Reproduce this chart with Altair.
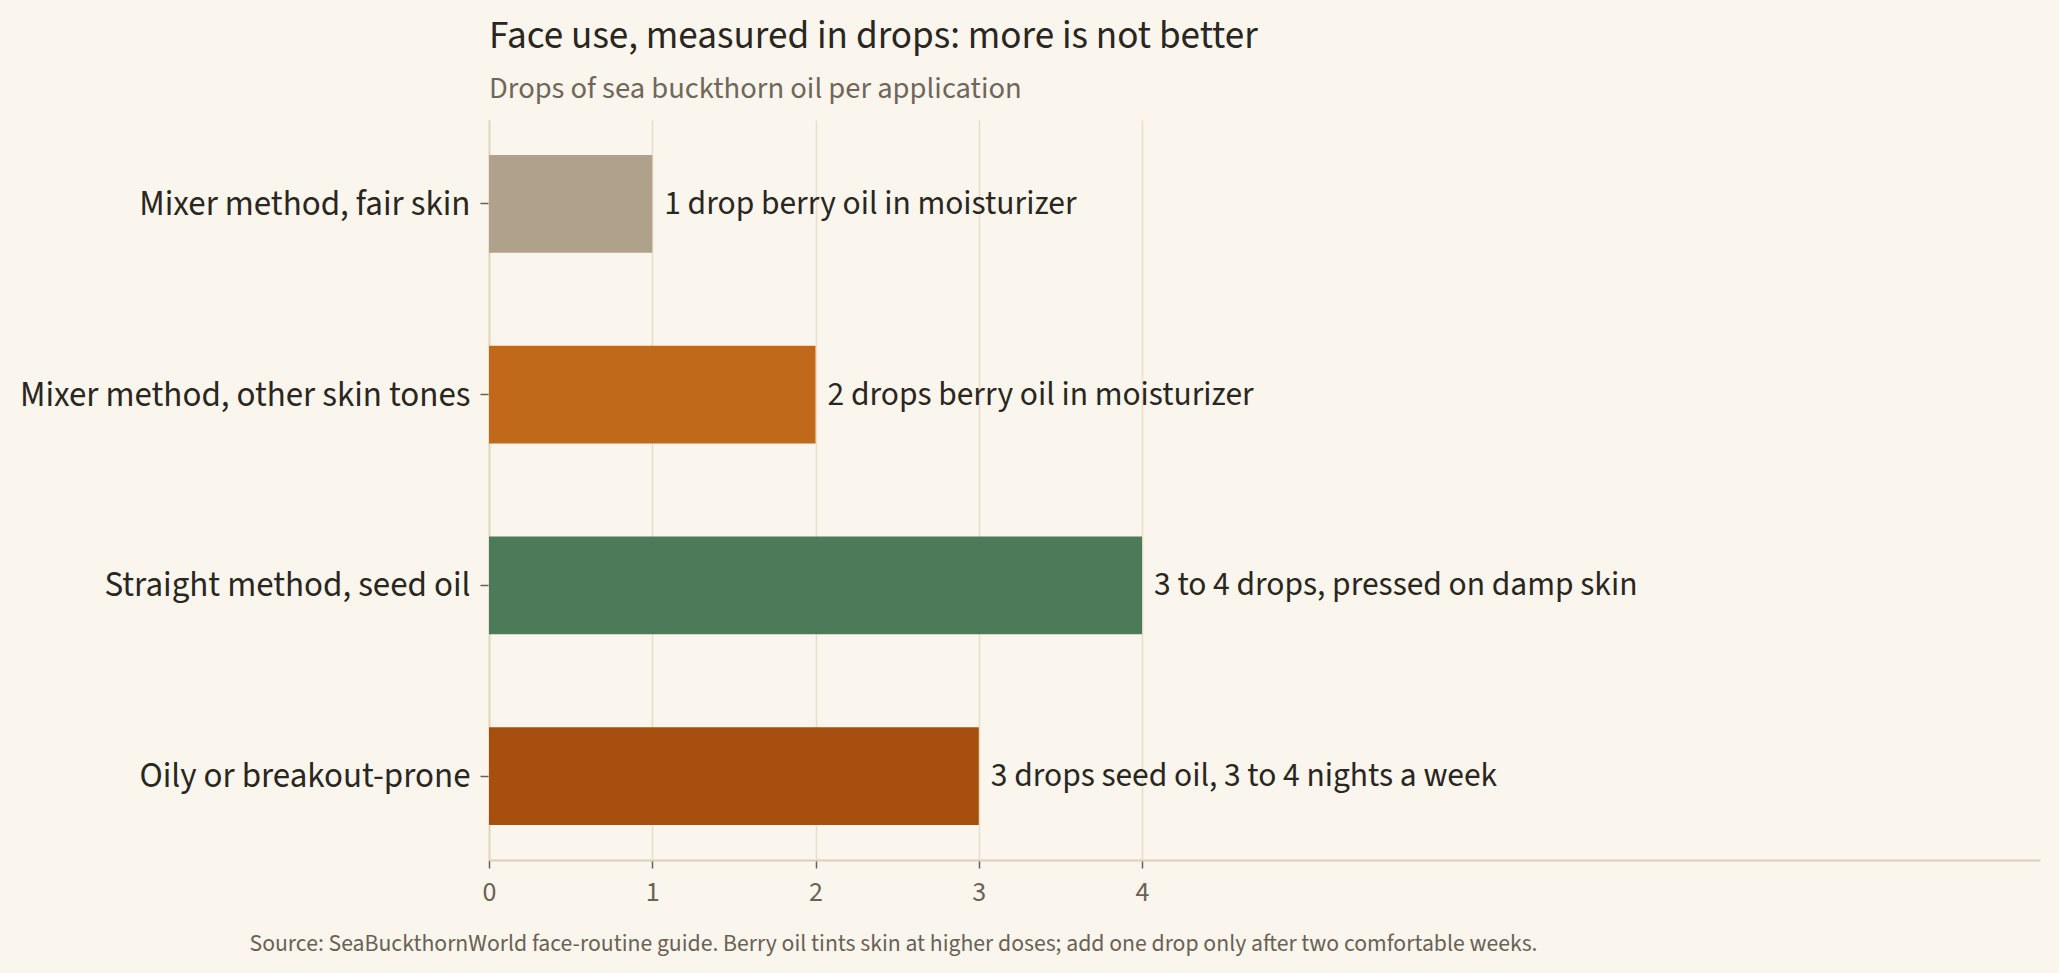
import altair as alt
import pandas as pd

categories = [
    "Mixer method, fair skin",
    "Mixer method, other skin tones",
    "Straight method, seed oil",
    "Oily or breakout-prone",
]
drops = [1, 2, 4, 3]
bar_labels = [
    "1 drop berry oil in moisturizer",
    "2 drops berry oil in moisturizer",
    "3 to 4 drops, pressed on damp skin",
    "3 drops seed oil, 3 to 4 nights a week",
]
bar_colors = ["#b0a18d", "#c1691b", "#4d7b5a", "#a74f0e"]
tick_values = [0, 1, 2, 3, 4]

title_text = "Face use, measured in drops: more is not better"
subtitle_text = "Drops of sea buckthorn oil per application"
source_text = ("Source: SeaBuckthornWorld face-routine guide. Berry oil tints skin at higher doses; "
               "add one drop only after two comfortable weeks.")

FONT = "'Source Sans 3', 'Source Sans Pro', Lato, sans-serif"
BG = "#faf6ee"

df = pd.DataFrame({"category": categories, "drops": drops, "label": bar_labels, "color": bar_colors})

y_enc = alt.Y(
    "category:N",
    sort=categories,
    scale=alt.Scale(paddingInner=0.487, paddingOuter=0.183),
    axis=alt.Axis(
        title=None,
        labelFontSize=35,
        labelColor="#2a2620",
        labelFont=FONT,
        labelLimit=800,
        tickSize=9,
        tickColor="#6b6154",
        tickWidth=1.5,
        domainColor="#e3d6c0",
        domainWidth=2,
        labelPadding=10,
        grid=False,
        minExtent=476,
        maxExtent=476,
    ),
)

x_enc = alt.X(
    "drops:Q",
    scale=alt.Scale(domain=[0, 9.5], nice=False, zero=True),
    axis=alt.Axis(
        values=tick_values,
        format="d",
        grid=True,
        gridColor="#eadec8",
        gridWidth=1.5,
        domainColor="#dccfb6",
        domainWidth=2,
        tickColor="#6b6154",
        tickWidth=1.5,
        tickSize=8,
        labelFontSize=28,
        labelFont=FONT,
        labelColor="#6b6154",
        labelPadding=10,
        labelFlush=False,
        title=source_text,
        titleFont=FONT,
        titleFontSize=23.7,
        titleFontWeight="normal",
        titleColor="#6b6154",
        titleAnchor="start",
        titleAlign="left",
        titleBaseline="alphabetic",
        titleX=-240,
        titleY=90,
    ),
)

bars = alt.Chart(df).mark_bar().encode(
    x=x_enc,
    y=y_enc,
    color=alt.Color("color:N", scale=None),
)

texts = alt.Chart(df).mark_text(
    align="left", baseline="middle", dx=12, fontSize=33.5, font=FONT, color="#2a2620"
).encode(
    x=alt.X("drops:Q"),
    y=alt.Y("category:N", sort=categories),
    text="label:N",
)

chart = (
    alt.layer(bars, texts)
    .properties(
        width=1551,
        height=740,
        background=BG,
        padding={"left": 5, "top": 8, "right": 5, "bottom": 5},
        title=alt.TitleParams(
            text=title_text,
            subtitle=subtitle_text,
            anchor="start",
            frame="group",
            font=FONT,
            fontSize=39.2,
            fontWeight="normal",
            color="#2a2620",
            subtitleFont=FONT,
            subtitleFontSize=30.6,
            subtitleColor="#70675a",
            subtitlePadding=18,
            offset=15.5,
        ),
    )
    .configure_view(stroke=None)
)

chart.save("out.html", embed_options={"renderer": "svg", "actions": False,
                                      "defaultStyle": "body { background: #faf6ee; }"})
